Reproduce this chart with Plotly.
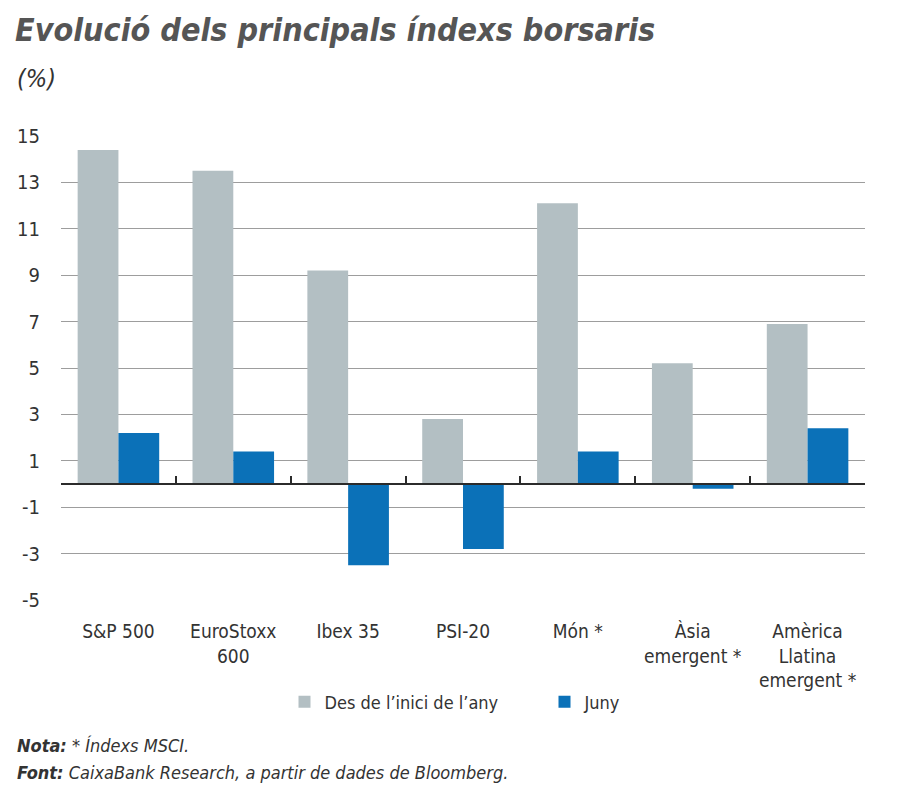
import plotly.graph_objects as go

categories = ["S&P 500", "EuroStoxx<br>600", "Ibex 35", "PSI-20", "Món *",
              "Àsia<br>emergent *", "Amèrica<br>Llatina<br>emergent *"]
ytd = [14.4, 13.5, 9.2, 2.8, 12.1, 5.2, 6.9]
june = [2.2, 1.4, -3.5, -2.8, 1.4, -0.2, 2.4]
y_ticks = [15, 13, 11, 9, 7, 5, 3, 1, -1, -3, -5]
y_ticktext = ["15", "13", "11", "9", "7", "5", "3", "1", "-1", "-3", "-5"]
series_names = ["Des de l’inici de l’any", "Juny"]

FONT = "Liberation Sans Narrow, DejaVu Sans Condensed, Arial Narrow, sans-serif"
TXT = "#333333"
GREY = "#b3bfc3"
BLUE = "#0b71b8"

W, H = 900, 795
ML, MR, MT, MB = 61, 35, 136, 195
pw = W - ML - MR
ph = H - MT - MB

def px_x(px):
    return (px - ML) / pw

def px_y(py):
    return (H - MB - py) / ph

fig = go.Figure()
fig.add_trace(go.Bar(x=list(range(len(categories))), y=ytd, name=series_names[0],
                     marker=dict(color=GREY, line=dict(width=0))))
fig.add_trace(go.Bar(x=list(range(len(categories))), y=june, name=series_names[1],
                     marker=dict(color=BLUE, line=dict(width=0))))

ymin, ymax = y_ticks[-1], y_ticks[0]
zero_pos = (0 - ymin) / (ymax - ymin)
n = len(categories)

fig.update_layout(
    width=W, height=H,
    margin=dict(l=ML, r=MR, t=MT, b=MB, autoexpand=False),
    paper_bgcolor="white", plot_bgcolor="white",
    barmode="group", bargap=0.29, bargroupgap=0,
    font=dict(family=FONT, color=TXT, size=18),
    xaxis=dict(
        range=[-0.5, n - 0.5], automargin=False,
        tickmode="array", tickvals=list(range(n)), ticktext=categories,
        showgrid=False, zeroline=False, showline=False, ticks="",
        tickfont=dict(size=19, color=TXT), ticklabelstandoff=18,
    ),
    xaxis2=dict(
        overlaying="x", anchor="free", position=zero_pos, side="bottom",
        range=[-0.5, n - 0.5], tickmode="array", automargin=False,
        tickvals=[i - 0.5 for i in range(n + 1)],
        showticklabels=False, showgrid=False, zeroline=False,
        showline=True, linecolor="#2b2b2b", linewidth=1.6,
        ticks="inside", ticklen=7, tickwidth=1.6, tickcolor="#2b2b2b",
    ),
    yaxis=dict(
        range=[ymin, ymax], tickmode="array", tickvals=y_ticks,
        ticktext=y_ticktext, automargin=False,
        showgrid=True, gridcolor="#9d9d9d", gridwidth=1.4,
        zeroline=False, showline=False, ticks="",
        tickfont=dict(size=20, color=TXT), ticklabelstandoff=20,
    ),
    legend=dict(
        orientation="h", x=(304.5 - 20) / W, xanchor="left", xref="container",
        y=1 - 702 / H, yanchor="middle", yref="container",
        font=dict(size=18, color=TXT), itemwidth=30,
        bgcolor="rgba(0,0,0,0)",
        traceorder="normal", tracegroupgap=0,
        entrywidth=215, entrywidthmode="pixels",
    ),
    title=dict(
        text="<b><i>Evolució dels principals índexs borsaris</i></b>",
        x=15 / W, xanchor="left", xref="container",
        y=1 - 19 / H, yanchor="top", yref="container",
        font=dict(size=32, color="#555555", family=FONT),
    ),
)

# invisible helper trace so the overlaid zero-line axis is drawn
fig.add_trace(go.Scatter(x=[-0.5, n - 0.5], y=[0, 0], xaxis="x2", yaxis="y",
                         mode="lines", line=dict(width=0), showlegend=False,
                         hoverinfo="skip"))

fig.add_annotation(text="<i>(%)</i>", xref="paper", yref="paper",
                   x=px_x(15), y=px_y(78), xanchor="left", yanchor="middle",
                   showarrow=False, font=dict(size=25, color=TXT))
fig.add_annotation(text="<b><i>Nota:</i></b><i> * Índexs MSCI.</i>",
                   xref="paper", yref="paper", x=px_x(15), y=px_y(745),
                   xanchor="left", yanchor="middle", showarrow=False,
                   font=dict(size=18, color=TXT))
fig.add_annotation(text="<b><i>Font:</i></b><i> CaixaBank Research, a partir de dades de Bloomberg.</i>",
                   xref="paper", yref="paper", x=px_x(15), y=px_y(772),
                   xanchor="left", yanchor="middle", showarrow=False,
                   font=dict(size=18, color=TXT))

fig.write_html("out.html", config={"displayModeBar": False},
               post_script="document.body.style.margin='0';")
